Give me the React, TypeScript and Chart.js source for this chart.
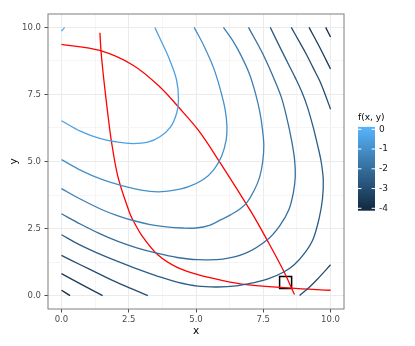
import React, { useEffect, useRef } from "react";
import { Chart, registerables } from "chart.js";
Chart.register(...registerables);

// ---- data ----
const axisTicks = [0, 2.5, 5, 7.5, 10];
const minorTicks = [1.25, 3.75, 6.25, 8.75];
const legendTicks = [0, -1, -2, -3, -4];
const levelMin = -4;
const levelMax = 0;

// contour pieces: [x, y] pairs, grouped by level
const c0a = [[0, 9.86], [0.06, 9.93], [0.12, 10.0]];
const c05a = [[0, 6.52], [0.72, 6.12], [1.42, 5.86], [2.1, 5.72], [2.66, 5.67], [3.21, 5.72], [3.66, 5.92], [4.05, 6.28], [4.28, 6.8], [4.35, 7.3], [4.28, 8.03], [4.03, 8.77], [3.75, 9.4], [3.47, 10.0]];
const c10a = [[0, 5.07], [0.72, 4.67], [1.5, 4.33], [2.21, 4.11], [2.96, 3.93], [3.6, 3.87], [4.2, 3.93], [4.7, 4.05], [5.27, 4.33], [5.65, 4.68], [5.95, 5.2], [6.12, 5.8], [6.15, 6.3], [6.08, 6.95], [5.9, 7.7], [5.65, 8.5], [5.3, 9.3], [4.93, 10.0]];
const c15a = [[0, 3.99], [0.7, 3.6], [1.47, 3.22], [2.1, 2.97], [2.66, 2.8], [3.3, 2.65], [3.9, 2.56], [4.5, 2.52], [5.0, 2.52], [5.5, 2.62], [5.93, 2.83], [6.3, 3.02], [6.62, 3.22], [6.89, 3.47], [7.15, 3.9], [7.36, 4.4], [7.48, 5.0], [7.52, 5.6], [7.47, 6.2], [7.38, 6.8], [7.22, 7.5], [6.99, 8.25], [6.7, 8.9], [6.4, 9.45], [6.02, 10.0]];
const c20a = [[0, 3.05], [0.7, 2.67], [1.4, 2.32], [2.1, 2.02], [2.8, 1.78], [3.58, 1.57], [4.3, 1.42], [5.07, 1.34], [6.0, 1.36], [6.87, 1.59], [7.65, 2.08], [8.11, 2.6], [8.45, 3.2], [8.62, 3.85], [8.69, 4.45], [8.66, 5.1], [8.55, 5.8], [8.38, 6.6], [8.17, 7.4], [7.85, 8.2], [7.49, 9.0], [6.95, 10.0]];
const c25a = [[0, 2.27], [0.7, 1.88], [1.3, 1.6], [1.97, 1.32], [2.8, 1.0], [3.58, 0.72], [4.3, 0.5], [5.07, 0.35], [5.8, 0.32], [6.5, 0.36], [7.1, 0.47], [7.7, 0.63], [8.26, 0.88], [8.65, 1.15], [9.05, 1.6], [9.35, 2.1], [9.58, 2.9], [9.7, 3.6], [9.73, 4.3], [9.65, 5.0], [9.52, 5.6], [9.35, 6.3], [9.15, 7.0], [8.95, 7.55], [8.7, 8.1], [8.45, 8.6], [8.15, 9.2], [7.76, 10.0]];
const c30a = [[0, 1.5], [0.7, 1.15], [1.34, 0.84], [2.0, 0.52], [2.6, 0.26], [3.21, 0.0]];
const c30b = [[8.85, 0.0], [9.2, 0.3], [9.5, 0.6], [10, 1.15]];
const c30c = [[8.54, 10.0], [8.85, 9.45], [9.1, 9.0], [9.35, 8.5], [9.6, 8.0], [9.8, 7.5], [10, 6.95]];
const c35a = [[0, 0.82], [0.72, 0.43], [1.53, 0.0]];
const c35b = [[9.2, 10.0], [9.6, 9.25], [10, 8.45]];
const c40a = [[0, 0.2], [0.32, 0.0]];
const c40b = [[9.82, 10.0], [10, 9.64]];

const contourLevels = [0, -0.5, -1, -1.5, -2, -2.5, -3, -3, -3, -3.5, -3.5, -4, -4];
const contourPieces = [c0a, c05a, c10a, c15a, c20a, c25a, c30a, c30b, c30c, c35a, c35b, c40a, c40b];

const redCurve1 = [[1.43, 9.8], [1.47, 9.12], [1.58, 8.0], [1.72, 6.8], [1.85, 5.8], [2.1, 4.43], [2.52, 3.12], [2.65, 2.83], [3.0, 2.22], [3.58, 1.52], [4.3, 1.05], [5.07, 0.78], [6.0, 0.56], [6.87, 0.41], [8.5, 0.28], [10, 0.2]];
const redCurve2 = [[0, 9.37], [1.42, 9.14], [2.66, 8.59], [3.66, 7.78], [4.34, 7.04], [5.1, 6.15], [5.9, 4.95], [7.05, 3.12], [7.67, 2.02], [8.23, 0.97], [8.66, 0.04]];
const markerPoint = [[8.33, 0.49]];

// ---- styling ----
const LOW = [0x13, 0x2b, 0x43];
const HIGH = [0x56, 0xb1, 0xf7];
function levelColor(v: number) {
  const t = (v - levelMin) / (levelMax - levelMin);
  const c = LOW.map((l, i) => Math.round(l + (HIGH[i] - l) * t));
  return `rgb(${c[0]},${c[1]},${c[2]})`;
}
const FONT = "'DejaVu Sans', sans-serif";
const toXY = (arr: number[][]) => arr.map(([x, y]) => ({ x, y }));

const framePlugin = {
  id: "frame",
  afterDatasetsDraw(chart: any) {
    const { ctx, chartArea: a } = chart;
    ctx.save();
    ctx.strokeStyle = "#7f7f7f";
    ctx.lineWidth = 1;
    ctx.strokeRect(a.left, a.top, a.right - a.left, a.bottom - a.top);
    ctx.restore();
  },
};

const legendPlugin = {
  id: "colorbar",
  afterDraw(chart: any) {
    const { ctx } = chart;
    const barX = 358, barW = 17;
    const yTop = 129.3, yBot = 208.3; // positions of 0 and -4
    const pad = 2.4;
    ctx.save();
    ctx.fillStyle = "#000";
    ctx.font = `9px ${FONT}`;
    ctx.textBaseline = "middle";
    ctx.textAlign = "left";
    ctx.fillText("f(x, y)", barX, 118);
    const g = ctx.createLinearGradient(0, yTop, 0, yBot);
    g.addColorStop(0, levelColor(levelMax));
    g.addColorStop(0.5, levelColor((levelMax + levelMin) / 2));
    g.addColorStop(1, levelColor(levelMin));
    ctx.fillStyle = g;
    ctx.fillRect(barX, yTop - pad, barW, yBot - yTop + 2 * pad);
    ctx.strokeStyle = "#fff";
    ctx.lineWidth = 1;
    ctx.fillStyle = "#1a1a1a";
    legendTicks.forEach((v) => {
      const y = yTop + ((levelMax - v) / (levelMax - levelMin)) * (yBot - yTop);
      ctx.beginPath();
      ctx.moveTo(barX, y);
      ctx.lineTo(barX + barW / 5, y);
      ctx.moveTo(barX + barW, y);
      ctx.lineTo(barX + barW - barW / 5, y);
      ctx.stroke();
      ctx.fillText(String(v), barX + barW + 4, y);
    });
    ctx.restore();
  },
};

const allTicks = [...axisTicks, ...minorTicks].sort((a, b) => a - b);
const isMajor = (v: number) => axisTicks.includes(v);

function axis(isX: boolean) {
  return {
    type: "linear",
    min: -0.5,
    max: 10.5,
    afterBuildTicks: (s: any) => {
      s.ticks = allTicks.map((v) => ({ value: v }));
    },
    afterFit: (s: any) => {
      if (isX) s.height = 37;
      else s.width = 48;
    },
    ticks: {
      autoSkip: false,
      maxRotation: 0,
      padding: isX ? 2 : 3.5,
      color: "#4d4d4d",
      font: { family: FONT, size: 8.5 },
      callback: (v: number) => (isMajor(v) ? v.toFixed(1) : ""),
    },
    grid: {
      color: (c: any) => (c.tick && isMajor(c.tick.value) ? "#ebebeb" : "#f5f5f5"),
      lineWidth: 1,
      tickLength: 3.5,
      tickColor: (c: any) => (c.tick && isMajor(c.tick.value) ? "#4d4d4d" : "rgba(0,0,0,0)"),
    },
    border: { display: false },
    title: {
      display: true,
      text: isX ? "x" : "y",
      color: "#000",
      font: { family: FONT, size: 10.5 },
      padding: isX ? { top: 0, bottom: 8 } : { top: 7.7, bottom: 0 },
    },
  };
}

export default function App() {
  const ref = useRef<HTMLCanvasElement>(null);
  useEffect(() => {
    if (!ref.current) return;
    const datasets: any[] = contourPieces.map((pts, i) => ({
      data: toXY(pts),
      showLine: true,
      borderColor: levelColor(contourLevels[i]),
      borderWidth: 1.3,
      pointRadius: 0,
      tension: 0.35,
      fill: false,
    }));
    [redCurve1, redCurve2].forEach((pts) =>
      datasets.push({
        data: toXY(pts),
        showLine: true,
        borderColor: "#ff0000",
        borderWidth: 1.3,
        pointRadius: 0,
        tension: 0.35,
        fill: false,
      })
    );
    datasets.push({
      data: toXY(markerPoint),
      showLine: false,
      pointStyle: "rect",
      pointRadius: 8.5,
      pointBorderWidth: 1.5,
      pointBorderColor: "#000",
      pointBackgroundColor: "rgba(0,0,0,0)",
    });
    const chart = new Chart(ref.current, {
      type: "scatter",
      data: { datasets },
      options: {
        animation: false,
        responsive: false,
        devicePixelRatio: 1,
        layout: { padding: { top: 14, right: 71, bottom: 0, left: 0 } },
        plugins: { legend: { display: false }, tooltip: { enabled: false } },
        scales: { x: axis(true) as any, y: axis(false) as any },
      },
      plugins: [framePlugin, legendPlugin],
    });
    return () => chart.destroy();
  }, []);
  return (
    <div style={{ position: "absolute", left: 0, top: 0, width: 415, height: 346, background: "#fff" }}>
      <canvas ref={ref} width={415} height={346} style={{ display: "block" }} />
    </div>
  );
}
